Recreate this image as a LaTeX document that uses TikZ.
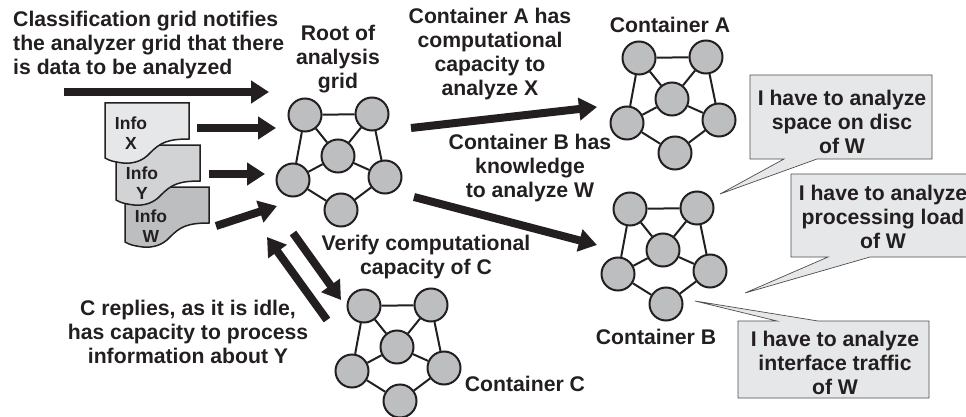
\documentclass[tikz,border=0pt]{standalone}
\usepackage{fontspec}
\setmainfont{Liberation Sans}
\usepackage{tikz}
\usetikzlibrary{arrows.meta}
\definecolor{inkdark}{HTML}{231F20}
\definecolor{sheetX}{HTML}{E6E7E8}
\definecolor{sheetY}{HTML}{D1D3D4}
\definecolor{sheetW}{HTML}{BCBEC0}
\newcommand{\gridnet}[3]{
  \begin{scope}[shift={(#2,#3)}]
    \foreach \nam/\dx/\dy in {p/-33/-41,q/34/-42,m/0/0,l/-45/24,r/47/21,b/3/54}
      \node(#1\nam)[grid node] at (\dx,\dy){};
    \foreach \from/\to in {p/q,p/m,q/m,p/l,q/r,m/l,m/r,l/b,r/b}
      \draw[grid edge] (#1\from) -- (#1\to);
  \end{scope}
}
\newcommand{\infosheet}[5]{
  \begin{scope}[shift={(#2,#3)}]
    \filldraw[info sheet,fill=#4] (0,0) -- (84,0) -- (84,36)
      .. controls (62,36) and (55,40) .. (45,50)
      .. controls (38,58) and (28,61) .. (18,60)
      .. controls (10,59) and (5,58) .. (0,55) -- cycle;
    \node(#1)[info text] at (26,#5){Info\\#1};
  \end{scope}
}
\begin{document}
\begin{tikzpicture}[x=1pt,y=-1pt,font=\fontsize{21.2}{24}\selectfont\bfseries,text=inkdark]
      \tikzstyle{grid node}=[circle,draw=inkdark,line width=2pt,fill=sheetW,minimum size=33pt,inner sep=0]
      \tikzstyle{grid edge}=[draw=inkdark,line width=2pt]
      \tikzstyle{big arrow}=[draw=inkdark,line width=8pt,-{Triangle[length=18pt,width=22pt]}]
      \tikzstyle{info sheet}=[draw=inkdark,line width=1.5pt]
      \tikzstyle{info text}=[align=center,inner sep=0,font=\fontsize{17.5}{20.5}\selectfont\bfseries]
      \tikzstyle{label text}=[align=center,inner sep=0]
      \tikzstyle{note box}=[draw=inkdark!80,line width=0.7pt,fill=sheetX]
      \useasboundingbox (0,0) rectangle (966,417);
      % the grids
      \gridnet{root}{338}{156}
      \gridnet{contA}{672}{99}
      \gridnet{contB}{663}{250}
      \gridnet{contC}{397}{347}
      % the information sheets
      \infosheet{W}{125}{187}{sheetW}{39}
      \infosheet{Y}{116}{145}{sheetY}{38}
      \infosheet{X}{105}{103}{sheetX}{30}
      % the arrows
      \coordinate(notifyS) at (64,92);    \coordinate(notifyE) at (269,92);
      \coordinate(infoXS) at (197,128);   \coordinate(infoXE) at (276,128);
      \coordinate(infoYS) at (209,174);   \coordinate(infoYE) at (265,174);
      \coordinate(infoWS) at (216,226);   \coordinate(infoWE) at (277,206);
      \coordinate(toAS) at (411,128);     \coordinate(toAE) at (597,107);
      \coordinate(toBS) at (414,197);     \coordinate(toBE) at (597,245);
      \coordinate(toCS) at (293,233);     \coordinate(toCE) at (341,300);
      \coordinate(fromCS) at (327,320);   \coordinate(fromCE) at (267,237);
      \foreach \from/\to in {notifyS/notifyE,infoXS/infoXE,infoYS/infoYE,infoWS/infoWE,toAS/toAE,toBS/toBE,toCS/toCE,fromCS/fromCE}
        \draw[big arrow] (\from) -- (\to);
      % the notes
      \filldraw[note box] (750,75) -- (932,75) -- (932,159) -- (817,159) -- (720,194) -- (784,159) -- (750,159) -- cycle;
      \filldraw[note box] (791,174) -- (972,174) -- (972,257) -- (870,257) -- (745,293) -- (828,257) -- (791,257) -- cycle;
      \filldraw[note box] (738,321) -- (777,321) -- (695,301) -- (818,321) -- (929,321) -- (929,398) -- (738,398) -- cycle;
      \node(noteDisc)[label text] at (842,122){I have to analyze\\space on disc\\of W};
      \node(noteLoad)[label text] at (883,217){I have to analyze\\processing load\\of W};
      \node(noteTraffic)[label text] at (835,363){I have to analyze\\interface traffic\\of W};
      % the texts
      \node(notifyText)[label text,align=left,anchor=west] at (13,45){Classification grid notifies\\the analyzer grid that there\\is data to be analyzed};
      \node(rootText)[label text] at (338,59){Root of\\analysis\\grid};
      \node(capAText)[label text] at (490,54){Container A has\\computational\\capacity to\\analyze X};
      \node(contAText)[label text] at (670,25){Container A};
      \node(knowBText)[label text] at (530,168){Container B has\\knowledge\\to analyze W};
      \node(verifyText)[label text] at (426,257){Verify computational\\capacity of C};
      \node(repliesText)[label text] at (188,332){C replies, as it is idle,\\has capacity to process\\information about Y};
      \node(contBText)[label text] at (656,337){Container B};
      \node(contCText)[label text] at (525,384){Container C};
\end{tikzpicture}
\end{document}
